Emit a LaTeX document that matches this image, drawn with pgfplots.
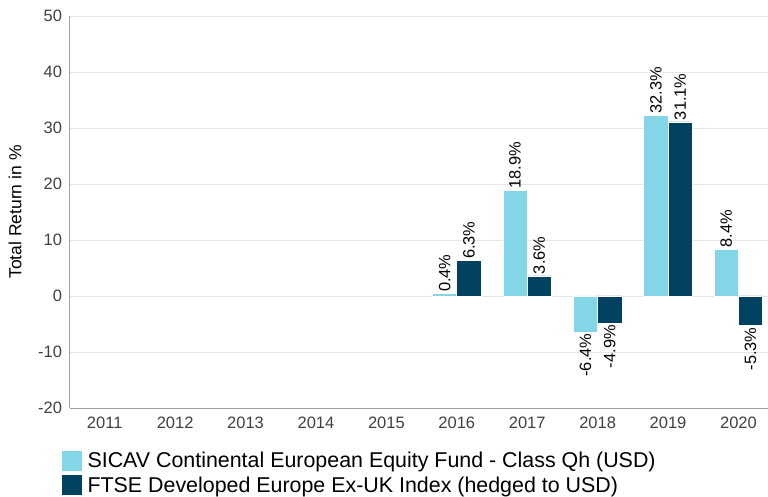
\documentclass[border=0pt]{standalone}
\usepackage{fontspec}
\setmainfont{Liberation Sans}
\usepackage{graphicx}
\usepackage{pgfplots}
\usepackage{pgfplotstable}
\pgfplotsset{compat=1.18}
\definecolor{fundc}{HTML}{83D6E8}
\definecolor{idxc}{HTML}{00425F}
\definecolor{tickc}{HTML}{404040}
\definecolor{gridc}{HTML}{E6E6E6}
\definecolor{axc}{HTML}{A0A0A0}

\pgfplotstableread{
x y
5 0.4
6 18.9
7 -6.4
8 32.3
9 8.4
}\fundtab
\pgfplotstableread{
x y
5 6.3
6 3.6
7 -4.9
8 31.1
9 -5.3
}\idxtab

\begin{document}
\begin{tikzpicture}
\useasboundingbox (0,0) rectangle (768pt,497pt);
\begin{axis}[
  at={(69.5pt,89pt)}, anchor=south west,
  scale only axis, width=698.5pt, height=392pt,
  xmin=-0.5, xmax=9.42, ymin=-20, ymax=50,
  ytick={-20,-10,0,10,20,30,40,50},
  xtick={0,1,2,3,4,5,6,7,8,9},
  xticklabels={2011,2012,2013,2014,2015,2016,2017,2018,2019,2020},
  axis lines*=left,
  axis line style={-, draw=axc, line width=0.8pt},
  ymajorgrids, grid style={gridc, line width=0.8pt},
  major tick length=0pt,
  /pgf/number format/assume math mode=true,
  tick label style={font=\fontsize{16.5}{18}\selectfont, text=tickc},
  yticklabel style={xshift=-4pt},
  xticklabel style={yshift=-5pt},
  ylabel={Total Return in \%},
  ylabel style={font=\fontsize{17.5}{19}\selectfont, text=black, at={(axis description cs:-0.078,0.5)}, anchor=center},
  ybar=0pt, bar width=24.3pt,
  clip=false,
  nodes near coords={\rotatebox{90}{\pgfmathprintnumber[fixed,fixed zerofill,precision=1]{\pgfplotspointmeta}\%}},
  nodes near coords align={vertical},
  every node near coord/.append style={inner sep=1.5pt,
    font=\fontsize{16.4}{18}\selectfont, text=black},
  legend style={at={(axis description cs:-0.0107,-0.108)}, anchor=north west,
    draw=none, fill=none, font=\fontsize{21.4}{23}\selectfont,
    row sep=4.5pt, inner sep=0pt, nodes={inner sep=1pt}},
  legend cell align=left,
  legend image code/.code={\fill[#1, draw=none] (0pt,-10pt) rectangle (20pt,10pt); \path (24pt,0pt);},
]
\addplot[fill=fundc, draw=white, line width=0.6pt] table[x=x,y=y] {\fundtab};
\addplot[fill=idxc, draw=white, line width=0.6pt] table[x=x,y=y] {\idxtab};
\legend{SICAV Continental European Equity Fund - Class Qh (USD), FTSE Developed Europe Ex-UK Index (hedged to USD)}
\end{axis}
\end{tikzpicture}
\end{document}
